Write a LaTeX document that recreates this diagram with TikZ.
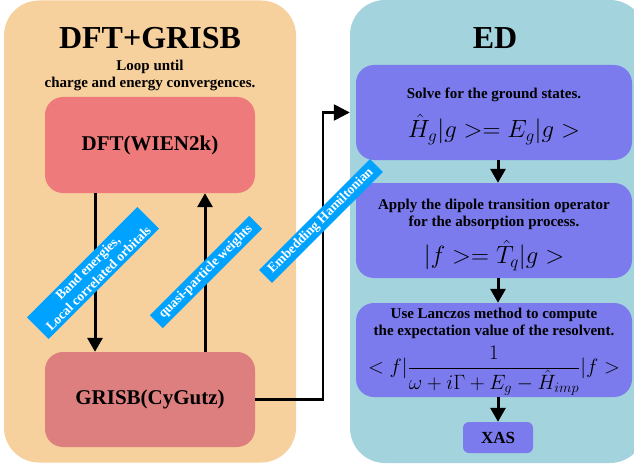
\documentclass[tikz,border=0pt]{standalone}
\usepackage[no-math]{fontspec}
\setmainfont{Liberation Serif}
\usetikzlibrary{arrows.meta}
\definecolor{panelorange}{HTML}{F6D09D}
\definecolor{panelcyan}{HTML}{A3D3DD}
\definecolor{dftred}{HTML}{EE7A7B}
\definecolor{grisbred}{HTML}{DD7F7E}
\definecolor{edpurple}{HTML}{7B7BEE}
\definecolor{tagblue}{HTML}{00A2FF}
\begin{document}
\begin{tikzpicture}[x=1pt,y=-1pt,
	panel/.style={rounded corners=35pt, inner sep=0pt},
	stepbox/.style={rounded corners=18pt, align=center, inner sep=0pt, font=\bfseries\fontsize{15}{17}\selectfont},
	codebox/.style={stepbox, font=\bfseries\fontsize{21}{24}\selectfont},
	tag/.style={fill=tagblue, text=white, rotate=45, align=center, inner xsep=7pt, inner ysep=3pt, font=\bfseries\fontsize{13.5}{15}\selectfont},
	flow/.style={line width=3pt, -{Triangle[length=14pt,width=15pt]}}]
		\useasboundingbox (0,0) rectangle (634,468);
		\clip (0,0) rectangle (634,468);
		\node[panel, fill=panelorange, minimum width=292pt, minimum height=462pt] (dftgrisb) at (150,231.5) {};
		\node[panel, fill=panelcyan, minimum width=295pt, minimum height=463pt] (ed) at (497.5,231.5) {};
		\node[font=\bfseries\fontsize{32}{36}\selectfont] (dftgrisbtitle) at (150,38) {DFT+GRISB};
		\node[font=\bfseries\fontsize{32}{36}\selectfont] (edtitle) at (495,38) {ED};
		\node[font=\bfseries\fontsize{15}{17}\selectfont, align=center] (loop) at (150,75) {Loop until\\charge and energy convergences.};
		\node[codebox, fill=dftred, minimum width=210pt, minimum height=96pt] (dft) at (150,145) {DFT(WIEN2k)};
		\node[codebox, fill=grisbred, minimum width=210pt, minimum height=95pt] (grisb) at (150,399.5) {GRISB(CyGutz)};
		\node[stepbox, fill=edpurple, minimum width=276pt, minimum height=95pt] (ground) at (494,112.5)
			{\rule{0pt}{18.3pt}Solve for the ground states.\\[11pt]{\fontsize{24}{27}\selectfont$\hat{H}_g|g>=E_g|g>$}};
		\node[stepbox, fill=edpurple, minimum width=276pt, minimum height=95pt] (dipole) at (494,230.5)
			{\rule{0pt}{19.3pt}Apply the dipole transition operator\\for the absorption process.\\[9pt]{\fontsize{24}{27}\selectfont$|f>=\hat{T}_q|g>$}};
		\node[stepbox, fill=edpurple, minimum width=276pt, minimum height=94pt] (lanczos) at (494,350)
			{\rule{0pt}{14.3pt}Use Lanczos method to compute\\the expectation value of the resolvent.\\[6pt]{\fontsize{21.5}{24}\selectfont$\displaystyle<f|\frac{1}{\omega+i\Gamma+E_g-\hat{H}_{imp}}|f>$}};
		\node[stepbox, fill=edpurple, minimum width=70pt, minimum height=31pt, rounded corners=6pt, font=\bfseries\fontsize{17}{19}\selectfont] (xas) at (498,437.5) {XAS};
		\draw[flow] ([xshift=-55pt]dft.south) -- ([xshift=-55pt]grisb.north);
		\draw[flow] ([xshift=55pt]grisb.north) -- ([xshift=55pt]dft.south);
		\draw[line width=2.5pt, -{Triangle[length=16pt,width=16pt]}] (grisb.east) -- ++(68,0) |- (ed.west |- ground);
		\draw[flow] (ground.south -| xas) -- (dipole.north -| xas);
		\draw[flow] (dipole.south -| xas) -- (lanczos.north -| xas);
		\draw[flow] (lanczos.south -| xas) -- (xas);
		\node[tag] (bandtag) at (93,273) {Band energies,\\Local correlated orbitals};
		\node[tag] (quasitag) at (206,272) {quasi-particle weights};
		\node[tag] (embedtag) at (321,221) {Embedding Hamiltonian};
	\end{tikzpicture}
\end{document}
